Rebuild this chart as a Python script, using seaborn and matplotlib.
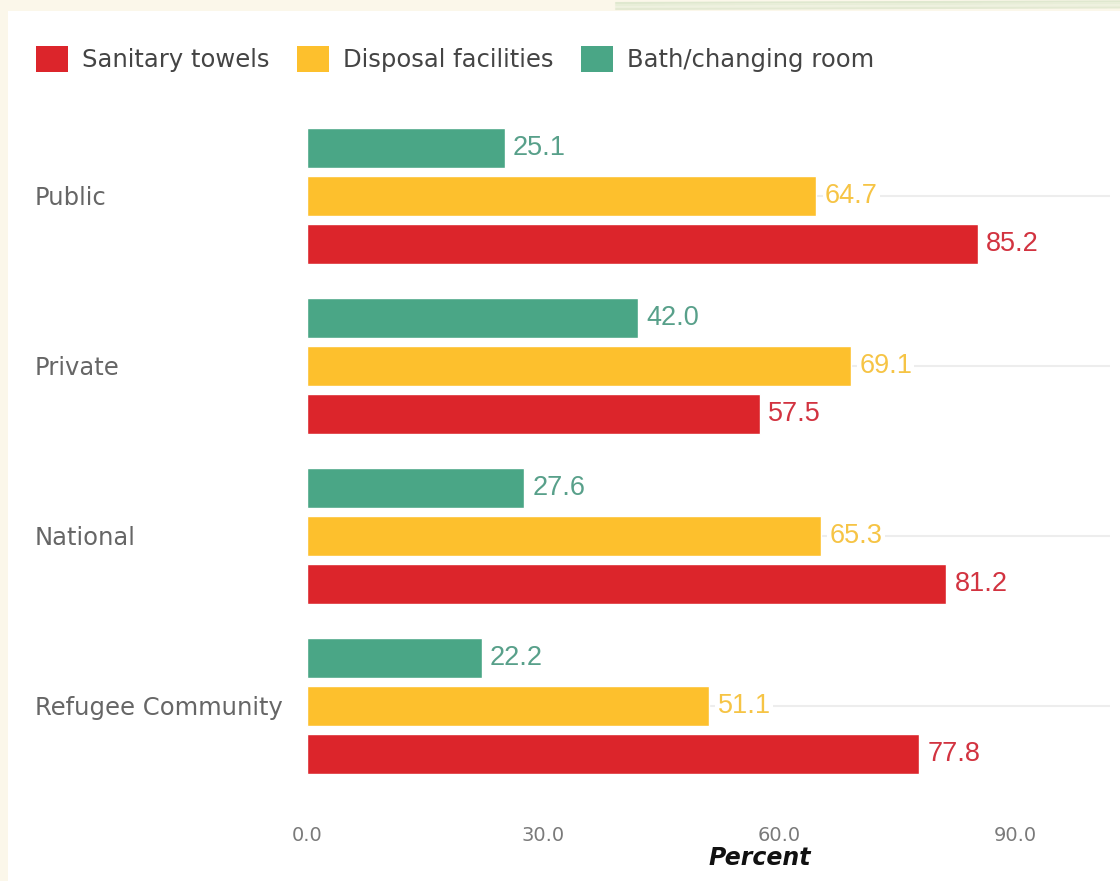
import matplotlib
matplotlib.use("Agg")
import matplotlib.pyplot as plt
from matplotlib.patches import Rectangle, Patch
from matplotlib.lines import Line2D
import numpy as np
import pandas as pd
import seaborn as sns

# Share of schools with each menstrual hygiene facility, by school type
categories = ["Public", "Private", "National", "Refugee Community"]
sanitary_towels = [85.2, 57.5, 81.2, 77.8]
disposal_facilities = [64.7, 69.1, 65.3, 51.1]
bath_changing_room = [25.1, 42.0, 27.6, 22.2]

series_names = ["Sanitary towels", "Disposal facilities", "Bath/changing room"]
bar_colors = {"Sanitary towels": "#dc252b",
              "Disposal facilities": "#fdc02d",
              "Bath/changing room": "#4aa686"}
label_colors = {"Sanitary towels": "#d23340",
                "Disposal facilities": "#f6c445",
                "Bath/changing room": "#58a08a"}
x_ticks = [0, 30, 60, 90]
x_tick_labels = ["0.0", "30.0", "60.0", "90.0"]

df = pd.DataFrame({
    "School": categories * 3,
    "Facility": (["Sanitary towels"] * 4 + ["Disposal facilities"] * 4
                 + ["Bath/changing room"] * 4),
    "Percent": sanitary_towels + disposal_facilities + bath_changing_room,
})

sns.set_theme(style="white")
plt.rcParams["font.family"] = ["DejaVu Sans"]

W, H = 1120, 881
fig = plt.figure(figsize=(W / 100, H / 100), dpi=100)
fig.patch.set_facecolor("#fbf7ea")
# white card over the cream page
fig.patches.append(Rectangle((8 / W, 0), 1, (H - 11) / H, transform=fig.transFigure,
                             facecolor="white", edgecolor="none", zorder=-1))
# faint decorative swooshes along the top border
xs = np.linspace(0.55, 1.0, 100)
for k, c in enumerate(["#dfe8cf", "#e8eed8", "#eef1df", "#e3e9d2"]):
    fig.lines.append(Line2D(xs, 1 - (3 + 2 * k) / H + 0.004 * (xs - 0.55),
                            transform=fig.transFigure, color=c, lw=1.5, zorder=-2))

x0, x1, ytop, ybot = 307, 1110, 105, 800
ax = fig.add_axes([x0 / W, 1 - ybot / H, (x1 - x0) / W, (ybot - ytop) / H])
ax.set_facecolor("white")

hue_order = ["Bath/changing room", "Disposal facilities", "Sanitary towels"]
sns.barplot(data=df, y="School", x="Percent", hue="Facility", hue_order=hue_order,
            order=categories, palette=bar_colors, orient="h", width=0.85, gap=0.17,
            saturation=1, ax=ax, legend=False, zorder=3)

for cont, name in zip(ax.containers, hue_order):
    ax.bar_label(cont, fmt="%.1f", padding=6, color=label_colors[name], fontsize=19.5,
                 family="Liberation Sans", zorder=4,
                 bbox=dict(facecolor="white", edgecolor="none", pad=1.5))

ax.set_xlim(0, 102)
ax.set_ylim(3.553, -0.535)
ax.set_xticks(x_ticks)
ax.set_xticklabels(x_tick_labels, fontsize=14, color="#7a7a7a")
ax.tick_params(axis="x", length=0, pad=19)
ax.tick_params(axis="y", length=0, pad=(x0 - 35) * 0.72)
for lab in ax.get_yticklabels():
    lab.set_horizontalalignment("left")
    lab.set_fontsize(17.5)
    lab.set_color("#666666")
ax.set_ylabel("")
ax.set_xlabel("Percent", fontsize=17, fontweight="bold", fontstyle="italic",
              color="#111111")
ax.xaxis.set_label_coords((760 - x0) / (x1 - x0), (ybot - 846) / (ybot - ytop))
ax.grid(axis="y", color="#ededed", lw=1.5, zorder=0)
ax.grid(axis="x", visible=False)
for s in ax.spines.values():
    s.set_visible(False)

handles = [Patch(facecolor=bar_colors[n], edgecolor="none") for n in series_names]
fig.legend(handles, series_names, loc="upper left", ncol=3, frameon=False,
           bbox_to_anchor=(36 / W, 1 - 46 / H), borderpad=0, borderaxespad=0,
           fontsize=17.5, labelcolor="#444444", handlelength=1.3, handleheight=1.25,
           handletextpad=0.58, columnspacing=1.15)

fig.savefig("out.png", dpi=100, facecolor=fig.get_facecolor())
